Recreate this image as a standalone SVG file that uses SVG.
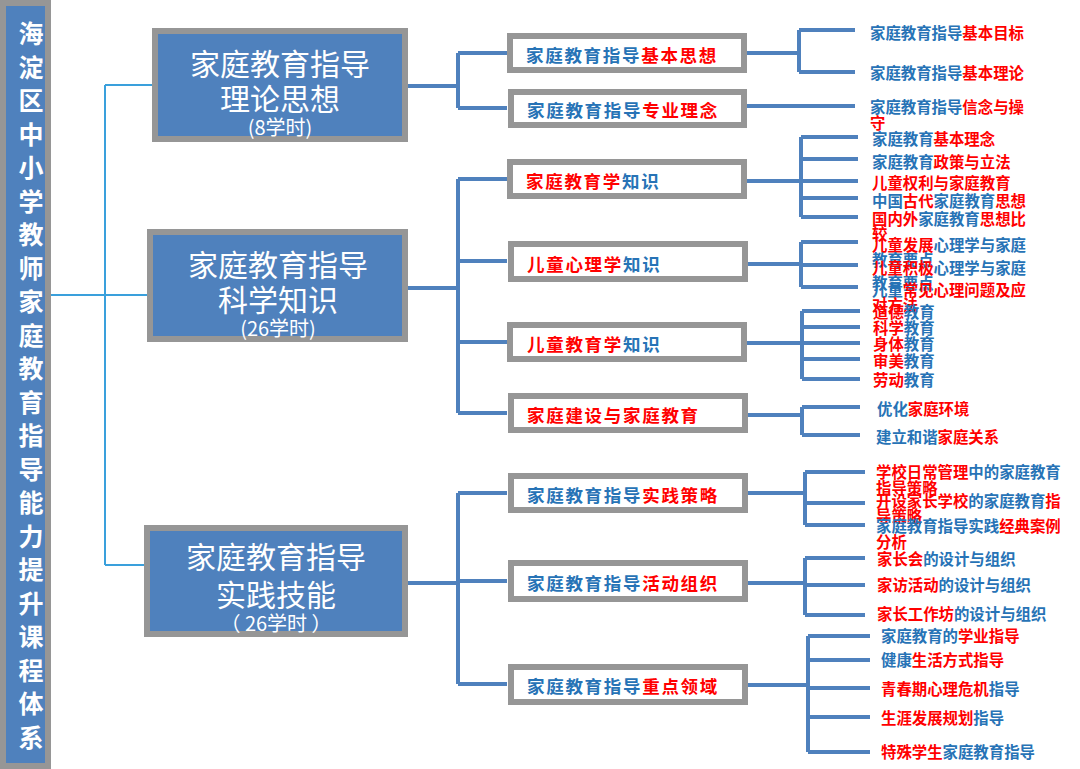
<svg xmlns="http://www.w3.org/2000/svg" width="1080" height="769" viewBox="0 0 1080 769">
<style>
.top{fill:#4f81bd;stroke:#969696;stroke-width:6}
.mid{fill:#ffffff;stroke:#969696;stroke-width:6}
.tt{font-family:"Noto Sans CJK SC","Noto Sans",sans-serif;fill:#ffffff;text-anchor:middle;dominant-baseline:central}
.mt{font-family:"Noto Sans CJK SC",sans-serif;font-size:17.5px;font-weight:bold;letter-spacing:1.7px;dominant-baseline:central}
.lt{font-family:"Noto Sans CJK SC",sans-serif;font-size:15.4px;font-weight:bold;dominant-baseline:central}
.b{fill:#2773b6}
.r{fill:#ff0000}
.lc{fill:none;stroke:#3aa0dc;stroke-width:2}
.dc{fill:none;stroke:#4f81bd;stroke-width:4}
</style>
<rect width="1080" height="769" fill="#ffffff"/>
<g id="title">
<rect x="0" y="0" width="51" height="769" fill="#969696"/>
<rect x="6" y="6" width="39" height="757" fill="#4f81bd"/>
<text font-family="Noto Sans CJK SC,sans-serif" font-size="25" font-weight="bold" fill="#ffffff" text-anchor="middle" dominant-baseline="central">
<tspan x="31" y="32">海</tspan><tspan x="31" y="65.5">淀</tspan><tspan x="31" y="99">区</tspan><tspan x="31" y="132.5">中</tspan><tspan x="31" y="166">小</tspan><tspan x="31" y="199.5">学</tspan><tspan x="31" y="233">教</tspan><tspan x="31" y="266.5">师</tspan><tspan x="31" y="300">家</tspan><tspan x="31" y="333.5">庭</tspan><tspan x="31" y="367">教</tspan><tspan x="31" y="400.5">育</tspan><tspan x="31" y="434">指</tspan><tspan x="31" y="467.5">导</tspan><tspan x="31" y="501">能</tspan><tspan x="31" y="534.5">力</tspan><tspan x="31" y="568">提</tspan><tspan x="31" y="601.5">升</tspan><tspan x="31" y="635">课</tspan><tspan x="31" y="668.5">程</tspan><tspan x="31" y="702">体</tspan><tspan x="31" y="735.5">系</tspan>
</text>
</g>
<g id="connectors">
<path class="lc" d="M51 295H105M105 85V565M105 85H152M105 295H147M105 565H144"/>
<path class="dc" d="M408 86H458M458 53V108M458 53H507M458 108H507"/>
<path class="dc" d="M408 288H458M458 179V413M458 179H507M458 261H507M458 342H507M458 413H507"/>
<path class="dc" d="M408 583H458M458 493V684M458 493H507M458 581H507M458 684H507"/>
<path class="dc" d="M747 53H799M799 30V72M799 30H855M799 72H855"/>
<path class="dc" d="M747 106H855"/>
<path class="dc" d="M747 181H801M801 137V217M801 137H858M801 159H858M801 181H858M801 198H858M801 217H858"/>
<path class="dc" d="M747 264H801M801 242V287M801 242H858M801 265H858M801 287H858"/>
<path class="dc" d="M747 343H802M802 311V379M802 311H860M802 327H860M802 343H860M802 359H860M802 379H860"/>
<path class="dc" d="M747 415H802M802 407V435M802 407H860M802 435H860"/>
<path class="dc" d="M747 493H805M805 472V525M805 472H865M805 503H865M805 525H865"/>
<path class="dc" d="M747 583H805M805 558V615M805 558H865M805 585H865M805 615H865"/>
<path class="dc" d="M747 685H808M808 636V752M808 636H870M808 660H870M808 688H870M808 717H870M808 752H870"/>
</g>
<g id="top1"><rect class="top" x="155" y="31" width="250" height="108"/>
<text class="tt" x="280" y="62" font-size="30">家庭教育指导</text><text class="tt" x="280" y="97" font-size="30">理论思想</text><text class="tt" x="280" y="126" font-size="20">(8学时)</text></g>
<g id="top2"><rect class="top" x="150" y="232" width="255" height="107"/>
<text class="tt" x="278" y="263" font-size="30">家庭教育指导</text><text class="tt" x="278" y="298" font-size="30">科学知识</text><text class="tt" x="278" y="327" font-size="20">(26学时)</text></g>
<g id="top3"><rect class="top" x="147" y="528" width="258" height="106"/>
<text class="tt" x="276" y="555" font-size="30">家庭教育指导</text><text class="tt" x="276" y="593" font-size="30">实践技能</text><text class="tt" x="276" y="622" font-size="20">（ 26学时 ）</text></g>
<g id="mid1"><rect class="mid" x="510" y="36" width="234" height="34"/><text class="mt" x="526" y="54"><tspan class="b">家庭教育指导</tspan><tspan class="r">基本思想</tspan></text></g>
<g id="mid2"><rect class="mid" x="511" y="92" width="233" height="33"/><text class="mt" x="527" y="109"><tspan class="b">家庭教育指导</tspan><tspan class="r">专业理念</tspan></text></g>
<g id="mid3"><rect class="mid" x="510" y="162" width="234" height="34"/><text class="mt" x="526" y="180"><tspan class="r">家庭教育学</tspan><tspan class="b">知识</tspan></text></g>
<g id="mid4"><rect class="mid" x="511" y="244" width="234" height="35"/><text class="mt" x="527" y="263"><tspan class="r">儿童心理学</tspan><tspan class="b">知识</tspan></text></g>
<g id="mid5"><rect class="mid" x="510" y="325" width="234" height="34"/><text class="mt" x="527" y="343"><tspan class="r">儿童教育学</tspan><tspan class="b">知识</tspan></text></g>
<g id="mid6"><rect class="mid" x="511" y="396" width="234" height="34"/><text class="mt" x="527" y="414"><tspan class="r">家庭建设与家庭教育</tspan></text></g>
<g id="mid7"><rect class="mid" x="511" y="476" width="234" height="34"/><text class="mt" x="527" y="494"><tspan class="b">家庭教育指导</tspan><tspan class="r">实践策略</tspan></text></g>
<g id="mid8"><rect class="mid" x="511" y="563" width="234" height="36"/><text class="mt" x="527" y="582"><tspan class="b">家庭教育指导</tspan><tspan class="r">活动组织</tspan></text></g>
<g id="mid9"><rect class="mid" x="511" y="667" width="234" height="35"/><text class="mt" x="527" y="685"><tspan class="b">家庭教育指导</tspan><tspan class="r">重点领域</tspan></text></g>
<g id="leaves1" class="lt">
<text x="870" y="32"><tspan class="b">家庭教育指导</tspan><tspan class="r">基本目标</tspan></text>
<text x="870" y="72"><tspan class="b">家庭教育指导</tspan><tspan class="r">基本理论</tspan></text>
<text x="870" y="106"><tspan class="b">家庭教育指导</tspan><tspan class="r">信念与操</tspan></text>
<text x="870" y="122" class="r">守</text>
</g>
<g id="leaves2" class="lt">
<text x="872" y="138"><tspan class="b">家庭教育</tspan><tspan class="r">基本理念</tspan></text>
<text x="872" y="161"><tspan class="b">家庭教育</tspan><tspan class="r">政策与立法</tspan></text>
<text x="872" y="182" class="r">儿童权利与家庭教育</text>
<text x="872" y="200"><tspan class="b">中国</tspan><tspan class="r">古代</tspan><tspan class="b">家庭教育</tspan><tspan class="r">思想</tspan></text>
<text x="872" y="218"><tspan class="r">国内外</tspan><tspan class="b">家庭教育</tspan><tspan class="r">思想比</tspan></text>
<text x="872" y="233" class="r">较</text>
</g>
<g id="leaves3" class="lt">
<text x="872" y="244"><tspan class="r">儿童发展</tspan><tspan class="b">心理学与家庭</tspan></text>
<text x="872" y="259" class="b">教育要点</text>
<text x="872" y="267"><tspan class="r">儿童积极</tspan><tspan class="b">心理学与家庭</tspan></text>
<text x="872" y="282" class="b">教育要点</text>
<text x="872" y="289"><tspan class="b">儿童</tspan><tspan class="r">常见心理问题及应</tspan></text>
<text x="872" y="304" class="r">对方法</text>
</g>
<g id="leaves4" class="lt">
<text x="873" y="311"><tspan class="r">道德</tspan><tspan class="b">教育</tspan></text>
<text x="873" y="327"><tspan class="r">科学</tspan><tspan class="b">教育</tspan></text>
<text x="873" y="343"><tspan class="r">身体</tspan><tspan class="b">教育</tspan></text>
<text x="873" y="360"><tspan class="r">审美</tspan><tspan class="b">教育</tspan></text>
<text x="873" y="379"><tspan class="r">劳动</tspan><tspan class="b">教育</tspan></text>
</g>
<g id="leaves5" class="lt">
<text x="877" y="408"><tspan class="b">优化</tspan><tspan class="r">家庭环境</tspan></text>
<text x="876" y="436"><tspan class="b">建立和谐</tspan><tspan class="r">家庭关系</tspan></text>
</g>
<g id="leaves6" class="lt">
<text x="876" y="471"><tspan class="r">学校日常管理</tspan><tspan class="b">中的家庭教育</tspan></text>
<text x="876" y="487" class="r">指导策略</text>
<text x="876" y="500"><tspan class="r">开设家长学校</tspan><tspan class="b">的家庭教育</tspan><tspan class="r">指</tspan></text>
<text x="876" y="515" class="r">导策略</text>
<text x="876" y="525"><tspan class="b">家庭教育指导实践</tspan><tspan class="r">经典案例</tspan></text>
<text x="876" y="541" class="r">分析</text>
</g>
<g id="leaves7" class="lt">
<text x="877" y="558"><tspan class="r">家长会</tspan><tspan class="b">的设计与组织</tspan></text>
<text x="877" y="584"><tspan class="r">家访活动</tspan><tspan class="b">的设计与组织</tspan></text>
<text x="877" y="613"><tspan class="r">家长工作坊</tspan><tspan class="b">的设计与组织</tspan></text>
</g>
<g id="leaves8" class="lt">
<text x="881" y="635"><tspan class="b">家庭教育的</tspan><tspan class="r">学业指导</tspan></text>
<text x="881" y="659"><tspan class="b">健康</tspan><tspan class="r">生活方式指导</tspan></text>
<text x="881" y="688"><tspan class="r">青春期心理危机</tspan><tspan class="b">指导</tspan></text>
<text x="881" y="717"><tspan class="r">生涯发展规划</tspan><tspan class="b">指导</tspan></text>
<text x="881" y="751"><tspan class="r">特殊学生</tspan><tspan class="b">家庭教育指导</tspan></text>
</g>
</svg>
